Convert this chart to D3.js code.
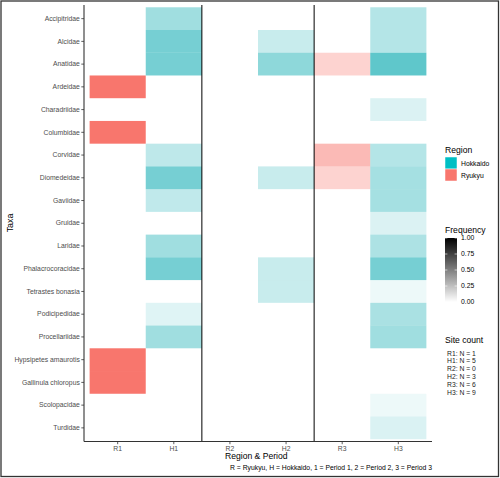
<!DOCTYPE html>
<html><head><meta charset="utf-8">
<script src="https://cdn.jsdelivr.net/npm/d3@7"></script>
<style>body{margin:0;background:#fff}svg{display:block}text{font-family:"Liberation Sans",Arial,sans-serif}</style>
</head><body>
<script>
const taxa = ["Accipitridae","Alcidae","Anatidae","Ardeidae","Charadriidae","Columbidae","Corvidae","Diomedeidae","Gaviidae","Gruidae","Laridae","Phalacrocoracidae","Tetrastes bonasia","Podicipedidae","Procellariidae","Hypsipetes amaurotis","Gallinula chloropus","Scolopacidae","Turdidae"];
const periods = ["R1","H1","R2","H2","R3","H3"];
const regions = ["Hokkaido","Ryukyu"];
const regionColors = ["#00BFC4","#F8766D"];
// frequency per taxon (same order as taxa), null = absent
const freqR1 = [null,null,null,1,null,1,null,null,null,null,null,null,null,null,null,1,1,null,null];
const freqH1 = [0.38,0.55,0.55,null,null,null,0.26,0.55,0.25,null,0.38,0.55,null,0.13,0.38,null,null,null,null];
const freqR2 = [null,null,null,null,null,null,null,null,null,null,null,null,null,null,null,null,null,null,null];
const freqH2 = [null,0.22,0.45,null,null,null,null,0.22,null,null,null,0.22,0.22,null,null,null,null,null,null];
const freqR3 = [null,null,0.32,null,null,null,0.5,0.32,null,null,null,null,null,null,null,null,null,null,null];
const freqH3 = [0.3,0.3,0.64,null,0.145,null,0.3,0.36,0.36,0.145,0.33,0.55,0.07,0.34,0.38,null,null,0.07,0.15];
const siteCounts = ["R1: N = 1","H1: N = 5","R2: N = 0","H2: N = 3","R3: N = 6","H3: N = 9"];
const freqTicks = [0,0.25,0.5,0.75,1];

const freqs = [freqR1,freqH1,freqR2,freqH2,freqR3,freqH3];
const cells = [];
periods.forEach((p,i)=>freqs[i].forEach((f,j)=>{ if(f!=null) cells.push({period:p,taxon:taxa[j],freq:f,region:p[0]==="R"?"Ryukyu":"Hokkaido"}); }));

const W=500,H=478;
const svg=d3.select("body").append("svg").attr("width",W).attr("height",H);
const tileColor = {Hokkaido:"#05A8AE",Ryukyu:"#F8766D"};

const x=d3.scaleBand().domain(periods).range([84,432]).paddingInner(0).paddingOuter(0.1);
const y=d3.scaleBand().domain(taxa).range([5,441.5]).paddingInner(0).paddingOuter(0.1);
const alpha=d3.scaleLinear().domain([0,1]).range([0,1]);

svg.append("g").selectAll("rect").data(cells).join("rect")
  .attr("x",d=>x(d.period)).attr("y",d=>y(d.taxon))
  .attr("width",x.bandwidth()).attr("height",y.bandwidth())
  .attr("fill",d=>tileColor[d.region]).attr("fill-opacity",d=>alpha(d.freq));

// separators
[1,3].forEach(i=>{
  const xv=x(periods[i])+x.bandwidth();
  svg.append("line").attr("x1",xv).attr("x2",xv).attr("y1",5).attr("y2",441.5).attr("stroke","#000").attr("stroke-width",1);
});

const ya=svg.append("g").attr("transform","translate(84,0)").call(d3.axisLeft(y).tickSize(2.7).tickPadding(1.5));
const xa=svg.append("g").attr("transform","translate(0,441.5)").call(d3.axisBottom(x).tickSize(2.7).tickPadding(2));
[ya,xa].forEach(a=>{
  a.select(".domain").attr("stroke","#333").attr("stroke-width",1.1);
  a.selectAll(".tick line").attr("stroke","#333").attr("stroke-width",0.8);
  a.selectAll("text").attr("fill","#4D4D4D").style("font-size","6.8px").attr("font-family","Liberation Sans, Arial, sans-serif");
});
ya.select(".domain").attr("d","M0,5V441.5");
xa.select(".domain").attr("d","M84,0H432");

svg.append("text").attr("transform","translate(13,223) rotate(-90)").attr("text-anchor","middle").style("font-size","8.8px").attr("fill","#000").text("Taxa");
svg.append("text").attr("x",225).attr("y",459).style("font-size","8.6px").attr("fill","#000").text("Region & Period");
svg.append("text").attr("x",432).attr("y",469.5).attr("text-anchor","end").style("font-size","6.8px").attr("fill","#000").text("R = Ryukyu, H = Hokkaido,  1 = Period 1, 2 = Period 2, 3 = Period 3");

// legend: Region
const lg=svg.append("g");
lg.append("text").attr("x",445).attr("y",153).style("font-size","8.6px").text("Region");
regions.forEach((r,i)=>{
  lg.append("rect").attr("x",445).attr("y",157+i*12).attr("width",12).attr("height",12).attr("fill",regionColors[i]).attr("stroke","#fff").attr("stroke-width",0.5);
  lg.append("text").attr("x",461).attr("y",166+i*12).style("font-size","6.8px").attr("fill","#000").text(r);
});

// legend: Frequency
lg.append("text").attr("x",445).attr("y",233).style("font-size","8.6px").text("Frequency");
const defs=svg.append("defs");
const gr=defs.append("linearGradient").attr("id","fg").attr("x1",0).attr("x2",0).attr("y1",0).attr("y2",1);
gr.append("stop").attr("offset","0%").attr("stop-color","#000").attr("stop-opacity",1);
gr.append("stop").attr("offset","100%").attr("stop-color","#000").attr("stop-opacity",0);
const fy=d3.scaleLinear().domain([0,1]).range([302,238]);
lg.append("rect").attr("x",445).attr("y",fy(1)).attr("width",12).attr("height",fy(0)-fy(1)).attr("fill","url(#fg)");
freqTicks.forEach(t=>{
  lg.append("line").attr("x1",445).attr("x2",447.4).attr("y1",fy(t)).attr("y2",fy(t)).attr("stroke","#fff").attr("stroke-width",0.6);
  lg.append("line").attr("x1",454.6).attr("x2",457).attr("y1",fy(t)).attr("y2",fy(t)).attr("stroke","#fff").attr("stroke-width",0.6);
  lg.append("text").attr("x",461).attr("y",fy(t)+2.4).style("font-size","6.8px").text(d3.format(".2f")(t));
});

// Site count
lg.append("text").attr("x",445).attr("y",343).style("font-size","8.6px").text("Site count");
siteCounts.forEach((s,i)=>{
  lg.append("text").attr("x",447).attr("y",355.5+i*7.9).style("font-size","6.8px").attr("fill","#222").text(s);
});

// outer frame
svg.append("rect").attr("x",1).attr("y",1).attr("width",497.5).attr("height",475.5).attr("fill","none").attr("stroke","#333").attr("stroke-width",1.3);
</script>
</body></html>
